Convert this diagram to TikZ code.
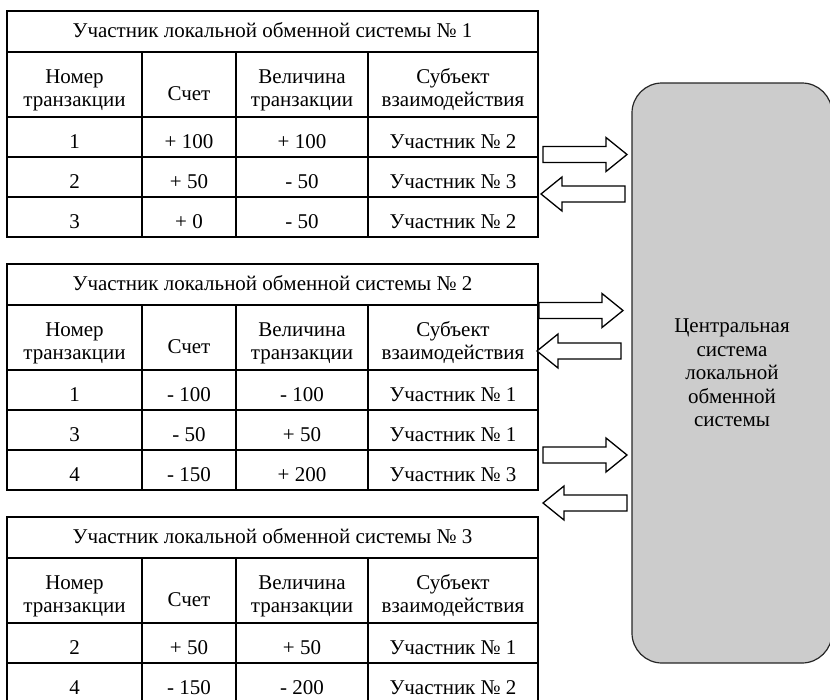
\documentclass[tikz,border=0pt]{standalone}
\usepackage{fontspec}
\setmainfont{Liberation Serif}
\newcommand\cellfont{\fontsize{21}{23}\selectfont}
\newcommand\boxfont{\fontsize{21}{23.5}\selectfont}
\newcommand\tblframe[2]{%
  \draw[tbl] (7,#1) rectangle (538,#1+106+40*#2);
  \draw[tbl,line cap=rect] (7,#1+41) -- (538,#1+41);
  \foreach \r in {1,...,#2} \draw[tbl,line cap=rect] (7,#1+66+40*\r) -- (538,#1+66+40*\r);
  \foreach \cx in {142,236,368} \draw[tbl,line cap=rect] (\cx,#1+41) -- (\cx,#1+106+40*#2);
}
\newcommand\tblhead[3]{%
  \node[cell] (#1-title) at (272.5,#2+26) {Участник локальной обменной системы № #3};
  \node[hd] (#1-h1) at (74.5,#2+55.9) {\strut Номер\\\strut транзакции};
  \node[cell] (#1-h2) at (189,#2+89) {Счет};
  \node[hd] (#1-h3) at (302,#2+55.9) {\strut Величина\\\strut транзакции};
  \node[hd] (#1-h4) at (453,#2+55.9) {\strut Субъект\\\strut взаимодействия};
}
\newcommand\tblrow[7]{% prefix, top, row index, a, b, c, d
  \node[cell] (#1-#3a) at (74.5,#2+97+40*#3) {#4};
  \node[cell] (#1-#3b) at (189,#2+97+40*#3) {#5};
  \node[cell] (#1-#3c) at (302,#2+97+40*#3) {#6};
  \node[cell] (#1-#3d) at (453,#2+97+40*#3) {#7};
}
\begin{document}
\begin{tikzpicture}[x=1pt,y=-1pt,
  tbl/.style={line width=1.6pt},
  cell/.style={inner sep=0pt,font=\cellfont,anchor=base},
  hd/.style={inner sep=0pt,font=\cellfont,align=center,anchor=north},
  blk/.style={draw=black,line width=1.3pt,fill=white},
  central/.style={draw=black!85,line width=1.2pt,fill=black!20,rounded corners=30pt,
    minimum width=200pt,minimum height=580pt,inner sep=0pt,align=center,font=\boxfont},
  rblock/.pic={\draw[blk] (0,-8) -- (63,-8) -- (63,-17) -- (84,0) -- (63,17) -- (63,8) -- (0,8) -- cycle;},
  lblock/.pic={\draw[blk] (0,0) -- (21,-17) -- (21,-8) -- (84,-8) -- (84,8) -- (21,8) -- (21,17) -- cycle;}]
\useasboundingbox (0,0) rectangle (830,699);
\clip (0,0) rectangle (830,699);

% central system
\node[central] (cs) at (732,373) {Центральная\\система\\локальной\\обменной\\системы};

% table 1
\tblframe{11}{3}
\tblhead{t1}{11}{1}
\tblrow{t1}{11}{1}{1}{+ 100}{+ 100}{Участник № 2}
\tblrow{t1}{11}{2}{2}{+ 50}{- 50}{Участник № 3}
\tblrow{t1}{11}{3}{3}{+ 0}{- 50}{Участник № 2}

% table 2
\tblframe{264}{3}
\tblhead{t2}{264}{2}
\tblrow{t2}{264}{1}{1}{- 100}{- 100}{Участник № 1}
\tblrow{t2}{264}{2}{3}{- 50}{+ 50}{Участник № 1}
\tblrow{t2}{264}{3}{4}{- 150}{+ 200}{Участник № 3}

% table 3
\tblframe{517}{2}
\tblhead{t3}{517}{3}
\tblrow{t3}{517}{1}{2}{+ 50}{+ 50}{Участник № 1}
\tblrow{t3}{517}{2}{4}{- 150}{- 200}{Участник № 2}

% block arrows
\pic (a1) at (543,154.5) {rblock};
\pic (a2) at (541,194) {lblock};
\pic (a3) at (539,310.5) {rblock};
\pic (a4) at (537,351) {lblock};
\pic (a5) at (543,455) {rblock};
\pic (a6) at (543,503) {lblock};
\end{tikzpicture}
\end{document}
